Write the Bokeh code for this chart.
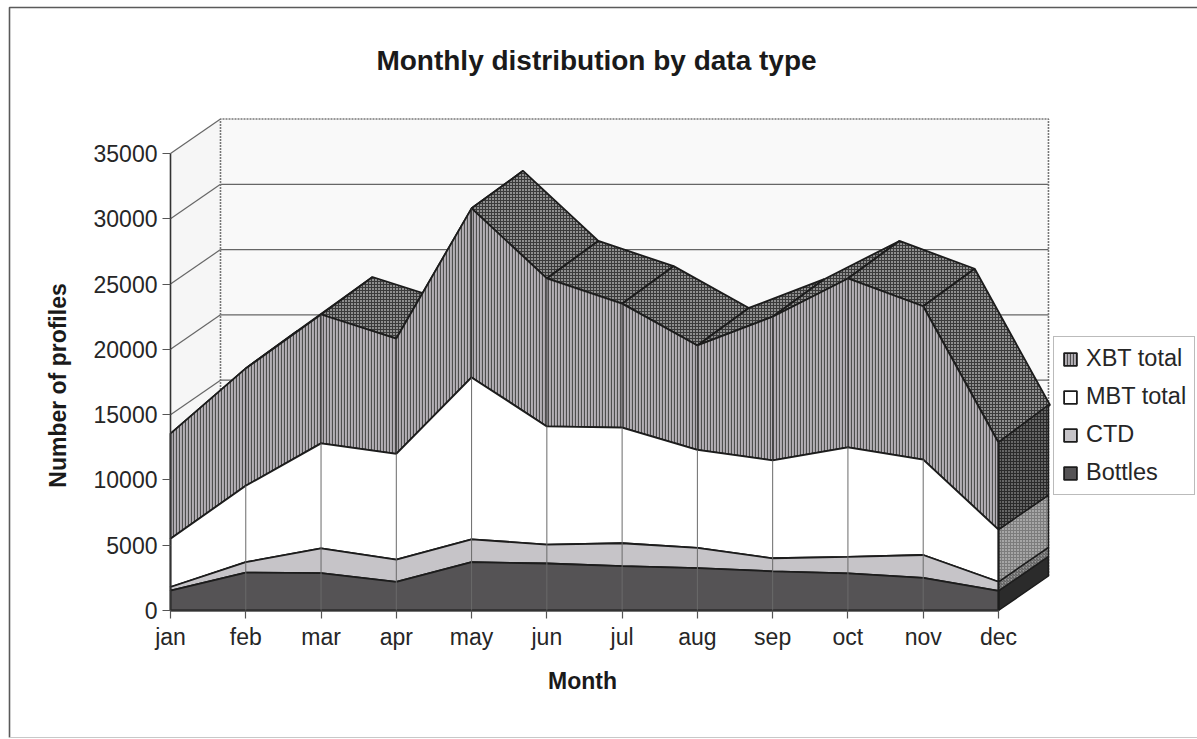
from bokeh.embed import file_html
from bokeh.models import FixedTicker, Label, Legend, LegendItem, LinearAxis, Range1d
from bokeh.plotting import figure
from bokeh.resources import INLINE

months = ["jan", "feb", "mar", "apr", "may", "jun", "jul", "aug", "sep", "oct", "nov", "dec"]
bottles = [1530, 2900, 2870, 2200, 3700, 3600, 3400, 3250, 3000, 2850, 2500, 1500]
ctd = [270, 800, 1880, 1700, 1750, 1450, 1750, 1550, 1000, 1250, 1750, 700]
mbt = [3700, 5850, 8050, 8100, 12400, 9050, 8850, 7500, 7500, 8400, 7300, 4000]
xbt = [8050, 8990, 9870, 8830, 12950, 11330, 9500, 8000, 11000, 12930, 11750, 6670]
y_ticks = list(range(0, 35001, 5000))

WIDTH, HEIGHT = 1197, 739
# Plot origin on the canvas and the pixel size of one axis unit.
ORIGIN_X, ORIGIN_Y = 170, 610
PX_PER_MONTH = 75.27
PX_PER_PROFILE = 457 / 35000

# Oblique projection depth: walls and floor, then the slightly deeper top surface.
DEPTH_X = 50 / PX_PER_MONTH
DEPTH_Y = 34.5 / PX_PER_PROFILE
SURFACE_X = 51.5 / PX_PER_MONTH
SURFACE_Y = 37.5 / PX_PER_PROFILE

FONT = "Liberation Sans"
INK = "#1c1c1c"

n = len(months)
xs = list(range(n))
last = n - 1


def to_x(px):
    return (px - ORIGIN_X) / PX_PER_MONTH


def to_y(py):
    return (ORIGIN_Y - py) / PX_PER_PROFILE


def cumulative(*series):
    totals, run = [], [0] * n
    for s in series:
        run = [a + b for a, b in zip(run, s)]
        totals.append(run)
    return totals


top_bottles, top_ctd, top_mbt, top_xbt = cumulative(bottles, ctd, mbt, xbt)

p = figure(width=WIDTH, height=HEIGHT, output_backend="svg", toolbar_location=None,
           x_range=Range1d(to_x(0), to_x(WIDTH)), y_range=Range1d(to_y(HEIGHT), to_y(0)),
           min_border=0, x_axis_type=None, y_axis_type=None,
           background_fill_color="#ffffff", border_fill_color="#ffffff", outline_line_color=None)
p.xgrid.visible = False
p.ygrid.visible = False

# Sheet frame: a rule down the left and along the top, fainter at the foot.
p.line([to_x(9), to_x(9), to_x(WIDTH)], [to_y(737), to_y(7), to_y(7)], line_color="#5a5a5a", line_width=1.6)
p.line([to_x(9), to_x(WIDTH)], [to_y(737), to_y(737)], line_color="#c8c8c8", line_width=1.2)

# Back wall and left wall with their gridlines.
p.patch([DEPTH_X, last + DEPTH_X, last + DEPTH_X, DEPTH_X],
        [DEPTH_Y, DEPTH_Y, 35000 + DEPTH_Y, 35000 + DEPTH_Y], fill_color="#f9f9f9", line_color=None)
p.patch([0, DEPTH_X, DEPTH_X, 0], [35000, 35000 + DEPTH_Y, DEPTH_Y, 0],
        fill_color="#f6f6f6", line_color=None)
for t in y_ticks[1:-1]:
    p.line([DEPTH_X, last + DEPTH_X], [t + DEPTH_Y] * 2, line_color="#666666", line_width=1.2)
for t in y_ticks[1:]:
    p.line([0, DEPTH_X], [t, t + DEPTH_Y], line_color="#666666", line_width=1.2)
p.line([DEPTH_X, DEPTH_X, last + DEPTH_X, last + DEPTH_X],
       [DEPTH_Y, 35000 + DEPTH_Y, 35000 + DEPTH_Y, DEPTH_Y],
       line_color="#777777", line_width=1.6, line_dash="2 1")

# Receding top faces of the outermost series, left to right so nearer faces overlap.
for i in range(n - 1):
    px = [xs[i], xs[i + 1], xs[i + 1] + SURFACE_X, xs[i] + SURFACE_X]
    py = [top_xbt[i], top_xbt[i + 1], top_xbt[i + 1] + SURFACE_Y, top_xbt[i] + SURFACE_Y]
    p.patch(px, py, fill_color="#8e8e8e", line_color=INK, line_width=1.8,
            hatch_pattern="cross", hatch_color="#3a3a3a", hatch_scale=3, hatch_weight=1)

# Right end cap of the stack at december.
caps = [
    ([0] * n, top_bottles, DEPTH_Y, "#2b2b2b", None, None),
    (top_bottles, top_ctd, DEPTH_Y, "#9a9a9a", "right_diagonal_line", "#555555"),
    (top_ctd, top_mbt, DEPTH_Y, "#a6a6a6", "cross", "#7c7c7c"),
    (top_mbt, top_xbt, SURFACE_Y, "#666666", "cross", "#2a2a2a"),
]
for low, high, rise, color, pattern, hatch in caps:
    cx = [last, last + DEPTH_X, last + DEPTH_X, last]
    cy = [high[-1], high[-1] + rise, low[-1] + DEPTH_Y, low[-1]]
    style = dict(fill_color=color, line_color=INK, line_width=1.5)
    if pattern:
        style.update(hatch_pattern=pattern, hatch_color=hatch, hatch_scale=3, hatch_weight=1)
    p.patch(cx, cy, **style)


def front(low, high):
    return xs + xs[::-1], high + low[::-1]


# Front faces of the stacked areas.
fx, fy = front(top_mbt, top_xbt)
r_xbt = p.patch(fx, fy, fill_color="#b4b0b6", line_color=INK, line_width=1.8,
                hatch_pattern="vertical_line", hatch_color="#4e4e4e", hatch_scale=3, hatch_weight=1.2)
fx, fy = front(top_ctd, top_mbt)
r_mbt = p.patch(fx, fy, fill_color="#ffffff", line_color=INK, line_width=1.8)
fx, fy = front(top_bottles, top_ctd)
r_ctd = p.patch(fx, fy, fill_color="#c6c4c8", line_color=INK, line_width=1.8)
fx, fy = front([0] * n, top_bottles)
r_bot = p.patch(fx, fy, fill_color="#555355", line_color=INK, line_width=1.8)

# Month divisions through the stack, darker across the hatched band.
for i in xs:
    p.line([i, i], [0, top_mbt[i]], line_color="#6a6a6a", line_width=1)
    p.line([i, i], [top_mbt[i], top_xbt[i]], line_color="#333333", line_width=1)
p.line([last, last], [0, top_xbt[-1]], line_color=INK, line_width=1.6)

left = LinearAxis(ticker=FixedTicker(ticks=y_ticks), bounds=(0, 35000), fixed_location=0)
bottom = LinearAxis(ticker=FixedTicker(ticks=xs), bounds=(0, last), fixed_location=0,
                    major_label_overrides={i: m for i, m in enumerate(months)})
for ax in (left, bottom):
    ax.axis_line_color = "#333333"
    ax.axis_line_width = 1.6
    ax.major_tick_line_color = "#555555"
    ax.major_tick_line_width = 1.2
    ax.major_tick_in = 0
    ax.major_tick_out = 8
    ax.minor_tick_out = 0
    ax.minor_tick_in = 0
    ax.major_label_text_font = FONT
    ax.major_label_text_font_size = "23px"
    ax.major_label_text_color = "#262626"
    ax.major_label_standoff = 5
p.add_layout(left, "left")
p.add_layout(bottom, "below")

title_style = dict(text_font=FONT, text_font_style="bold", text_align="center", text_baseline="middle",
                   text_color="#1a1a1a")
p.add_layout(Label(x=to_x(596), y=to_y(60), text="Monthly distribution by data type",
                   text_font_size="28px", **title_style))
p.add_layout(Label(x=to_x(582), y=to_y(680), text="Month", text_font_size="23px", **title_style))
p.add_layout(Label(x=to_x(57), y=to_y(385), text="Number of profiles", angle=90, angle_units="deg",
                   text_font_size="23px", **title_style))

legend = Legend(items=[LegendItem(label="XBT total", renderers=[r_xbt]),
                       LegendItem(label="MBT total", renderers=[r_mbt]),
                       LegendItem(label="CTD", renderers=[r_ctd]),
                       LegendItem(label="Bottles", renderers=[r_bot])],
                location=(1053, HEIGHT - 495), orientation="vertical", background_fill_color="#ffffff",
                background_fill_alpha=1, border_line_color="#777777", border_line_width=1.5,
                label_text_font=FONT, label_text_font_size="23.5px", label_text_color="#262626",
                glyph_width=16, glyph_height=16, spacing=11, padding=8, margin=0, label_standoff=8)
p.add_layout(legend, "center")

open("out.html", "w").write(file_html(p, INLINE))
